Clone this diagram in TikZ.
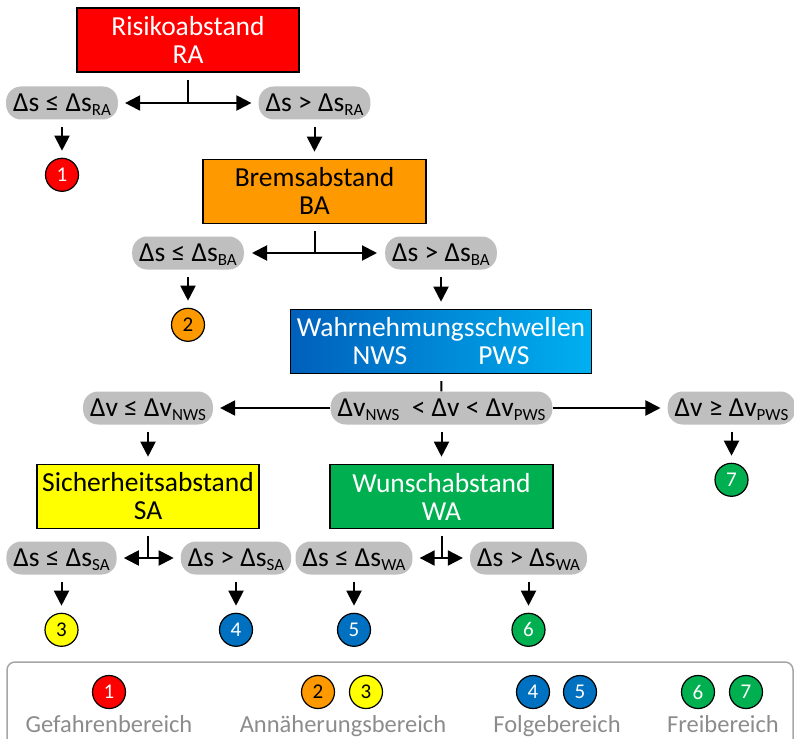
\documentclass[tikz,border=0pt]{standalone}
\usepackage{fontspec}
\setmainfont{Carlito}
\usepackage{tikz}
\usetikzlibrary{arrows.meta,positioning}
\definecolor{raRed}{HTML}{FF0000}
\definecolor{baOrange}{HTML}{FF9900}
\definecolor{saYellow}{HTML}{FFFF00}
\definecolor{waGreen}{HTML}{00B050}
\definecolor{fbBlue}{HTML}{0070C0}
\definecolor{wsDark}{HTML}{0060BC}
\definecolor{wsLight}{HTML}{00B0F0}
\definecolor{pillGray}{HTML}{BFBFBF}
\definecolor{lgdGray}{HTML}{8C8C8C}
\definecolor{lgdFrame}{HTML}{A6A6A6}
\newcommand\ix[1]{\raisebox{-4pt}{\fontsize{17}{17}\selectfont #1}}

\begin{document}
\begin{tikzpicture}[x=1pt,y=-1pt,
  node distance=38pt,
  every node/.style={font=\fontsize{27.5}{28}\selectfont},
  B/.style={draw=black,line width=1.5pt,align=center,
            minimum height=64pt,inner sep=0pt},
  P/.style={fill=pillGray,rounded corners=15pt,text height=17pt,
            text depth=0pt,minimum height=33pt,inner xsep=7pt,inner ysep=0pt},
  N/.style={circle,draw=black,line width=1.2pt,fill=#1,minimum size=33pt,
            inner sep=0pt,font=\fontsize{21}{21}\selectfont},
  L/.style={text=lgdGray,anchor=base,font=\fontsize{24.5}{26}\selectfont},
  ar/.style={-{Triangle[length=15pt,width=15pt]},line width=2pt},
  ln/.style={line width=2pt}
]
\useasboundingbox (0,0) rectangle (794,738);

\node[B,fill=raRed,text=white,minimum width=222pt](RA) at (188,40)
     {Risikoabstand\\RA};
\node[P](RAle) at (62,103){Δs ≤ Δs\ix{RA}};
\node[P](RAgt) at (314.5,103){Δs > Δs\ix{RA}};
\node[N=raRed,text=white,below=of RAle](z1){1};
\node[B,fill=baOrange,minimum width=223pt,below=39pt of RAgt](BA)
     {Bremsabstand\\BA};
\node[P](BAle) at (188,253){Δs ≤ Δs\ix{BA}};
\node[P](BAgt) at (441,253){Δs > Δs\ix{BA}};
\node[N=baOrange,below=of BAle](z2){2};
\node[B,left color=wsDark,right color=wsLight,text=white,
      minimum width=301pt,below=39pt of BAgt](WNS)
     {Wahrnehmungsschwellen\\NWS\hspace{71pt}PWS};
\node[P](VVmid) at (441.5,408){Δv\ix{NWS}\ \ < Δv < Δv\ix{PWS}};
\node[P](VVle) at (148,408){Δv ≤ Δv\ix{NWS}};
\node[P](VVge) at (731.5,408){Δv ≥ Δv\ix{PWS}};
\node[N=waGreen,text=white,below=of VVge](z7){7};
\node[B,fill=saYellow,minimum width=222pt,below=39pt of VVle](SA)
     {Sicherheitsabstand\\SA};
\node[B,fill=waGreen,text=white,minimum width=223pt,below=39pt of VVmid](WA)
     {Wunschabstand\\WA};
\node[P](SAle) at (61.5,558){Δs ≤ Δs\ix{SA}};
\node[P](SAgt) at (236,558){Δs > Δs\ix{SA}};
\node[P](WAle) at (354,558){Δs ≤ Δs\ix{WA}};
\node[P](WAgt) at (528.5,558){Δs > Δs\ix{WA}};
\node[N=saYellow,below=of SAle](z3){3};
\node[N=fbBlue,text=white,below=of SAgt](z4){4};
\node[N=fbBlue,text=white,below=of WAle](z5){5};
\node[N=waGreen,text=white,below=of WAgt](z6){6};

\coordinate (ra) at (RA.south |- RAle);
\coordinate (ba) at (BA.south |- BAle);
\coordinate (sa) at (SA.south |- SAle);
\coordinate (wa) at (WA.south |- WAle);

\draw[ln,shorten <=7pt](RA)--(ra);
\draw[ar,shorten >=7pt](ra)--(RAle);
\draw[ar,shorten >=7pt](ra)--(RAgt);
\draw[ar,shorten <=7pt,shorten >=7pt](RAle)--(z1);
\draw[ar,shorten <=7pt,shorten >=7pt](RAgt)--(BA);

\draw[ln,shorten <=7pt](BA)--(ba);
\draw[ar,shorten >=8pt](ba)--(BAle);
\draw[ar,shorten >=8pt](ba)--(BAgt);
\draw[ar,shorten <=7pt,shorten >=7pt](BAle)--(z2);
\draw[ar,shorten <=7pt,shorten >=7pt](BAgt)--(WNS);

\draw[ln,shorten <=7pt](WNS)--(VVmid);
\draw[ar,shorten >=7pt](VVmid)--(VVle);
\draw[ar,shorten >=7pt](VVmid)--(VVge);
\draw[ar,shorten <=7pt,shorten >=7pt](VVle)--(SA);
\draw[ar,shorten <=7pt,shorten >=7pt](VVmid)--(WA);
\draw[ar,shorten <=7pt,shorten >=7pt](VVge)--(z7);

\draw[ln,shorten <=7pt](SA)--(sa);
\draw[ar,shorten >=7pt](sa)--(SAle);
\draw[ar,shorten >=7pt](sa)--(SAgt);
\draw[ln,shorten <=7pt](WA)--(wa);
\draw[ar,shorten >=7pt](wa)--(WAle);
\draw[ar,shorten >=7pt](wa)--(WAgt);
\draw[ar,shorten <=7pt,shorten >=7pt](SAle)--(z3);
\draw[ar,shorten <=7pt,shorten >=7pt](SAgt)--(z4);
\draw[ar,shorten <=7pt,shorten >=7pt](WAle)--(z5);
\draw[ar,shorten <=7pt,shorten >=7pt](WAgt)--(z6);

\node[draw=lgdFrame,line width=1.5pt,rounded corners=8pt,
      minimum width=786pt,minimum height=100pt,inner sep=0pt](lgd) at (400,712){};
\node[N=raRed,text=white](g1) at (109,692){1};
\node[N=baOrange](g2) at (318,692){2};
\node[N=saYellow](g3) at (366,692){3};
\node[N=fbBlue,text=white](g4) at (533,692){4};
\node[N=fbBlue,text=white](g5) at (580,692){5};
\node[N=waGreen,text=white](g6) at (698,692){6};
\node[N=waGreen,text=white](g7) at (746,692){7};
\node[L](t1) at (109,732){Gefahrenbereich};
\node[L](t2) at (343,732){Annäherungsbereich};
\node[L](t3) at (557,732){Folgebereich};
\node[L](t4) at (723,732){Freibereich};
\end{tikzpicture}
\end{document}
